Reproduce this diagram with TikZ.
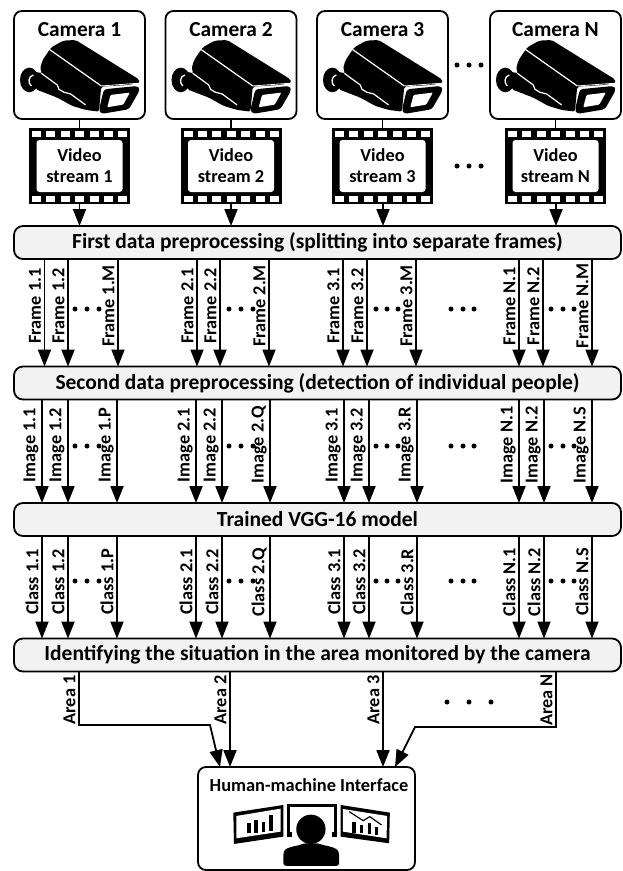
\documentclass[tikz,border=0pt]{standalone}
\usepackage{fontspec}
\setmainfont{Carlito}
\usetikzlibrary{arrows.meta,positioning}

\begin{document}
\begin{tikzpicture}[
    x=1pt, y=-1pt,
    line width=1.8pt,
    flow/.style={-{Triangle[length=17pt,width=13pt]}},
    cambox/.style={draw, rectangle, rounded corners=8pt, minimum width=131pt, minimum height=108pt, inner sep=0pt, outer sep=0pt},
    title/.style={inner sep=0pt, font=\fontsize{21.4}{24}\selectfont\bfseries},
    film/.style={fill=black, rectangle, minimum width=101pt, minimum height=76pt, inner sep=0pt, outer sep=0pt},
    window/.style={fill=white, rectangle, rounded corners=3pt, minimum width=86pt, minimum height=52pt, inner sep=0pt, align=center, font=\fontsize{18.3}{21}\selectfont\bfseries},
    bar/.style={draw, fill=black!5, rectangle, rounded corners=9pt, minimum width=607pt, minimum height=33pt, inner sep=0pt, outer sep=0pt, font=\fontsize{21.5}{24}\selectfont\bfseries},
    vlabel/.style={rotate=90, anchor=south, inner sep=1pt, font=\fontsize{18.3}{20}\selectfont\bfseries},
    camicon/.pic={
      \begin{scope}[x=.333pt, y=-.333pt]
        % outline of the housing and the arm
        \fill[rounded corners=2pt] (112,52) -- (148,32) -- (185,30) -- (375,148) -- (378,158) -- (345,165) -- (262,170) -- (255,245) -- (215,240) -- (175,228) -- (130,203) -- (65,178) -- (60,125) -- (85,130) -- (78,118) -- (85,92) -- (105,62) -- cycle;
        \fill (46,150) ellipse (28 and 37);
        \draw[white, line width=1.3pt] (58,135) .. controls (42,140) and (42,160) .. (52,168);
        \draw[white, line width=1.2pt] (106,58) -- (262,168);
        \draw[white, line width=.8pt] (262,168) -- (372,160);
        \draw[white, line width=1.2pt] (82,130) -- (130,165) -- (135,178) -- (150,187) -- (170,192) -- (215,225);
        % lens
        \fill[rounded corners=3pt] (270,178) -- (372,168) -- (378,180) -- (345,238) -- (262,252) -- (255,240) -- cycle;
        \fill[white, rounded corners=1pt] (290,195) -- (348,188) -- (328,224) -- (280,232) -- cycle;
      \end{scope}
    },
    hmiicon/.pic={
      \begin{scope}[x=.333pt, y=-.333pt]
        % left monitor
        \fill (40,68) -- (190,45) -- (190,140) -- (42,162) -- cycle;
        \fill[white] (49,78) -- (182,56) -- (182,125) -- (49,145) -- cycle;
        \foreach \a/\b/\c in {82/100/128, 103/90/128, 125/95/126, 148/75/122}
          \fill (\a,\b) rectangle (\a+10,\c);
        % right monitor
        \fill (362,45) -- (510,68) -- (508,160) -- (362,140) -- cycle;
        \fill[white] (369,57) -- (502,78) -- (500,145) -- (369,125) -- cycle;
        \foreach \a/\b/\c in {397/95/128, 420/105/130, 443/100/133, 465/110/136}
          \fill (\a,\b) rectangle (\a+10,\c);
        \draw[line width=1.2pt] (388,65) -- (430,92) -- (450,80) -- (485,105);
        % middle monitor and person
        \fill (200,42) rectangle (350,140);
        \fill[white] (209,51) rectangle (341,125);
        \fill[white] (215,125) rectangle (335,145);
        \fill[white] (273,118) circle (50);
        \fill (273,118) circle (44);
        \fill[rounded corners=3pt] (190,228) -- (190,195) .. controls (195,170) and (235,168) .. (250,160) -- (296,160) .. controls (315,168) and (352,170) .. (358,195) -- (358,228) -- cycle;
      \end{scope}
    }]
    \useasboundingbox (0,0) rectangle (622,871);

    % Cameras and video streams
    \foreach \x/\c/\n in {79.5/1/1, 231/2/2, 382.5/3/3, 555.5/4/N} {
      \node[cambox] (Cam\c) at (\x,65) {};
      \node[title] (Title\c) at (\x,30) {Camera \n};
      \pic at (\x-65.5,30) {camicon};
      \node[film] (Film\c) at (\x,166) {};
      \node[window] (Vid\c) at (\x,166) {Video\\stream \n};
      \foreach \k in {0,...,6} {
        \fill[white] (\x-47.5+\k*14.4,131) rectangle ++(9,6);
        \fill[white] (\x-47.5+\k*14.4,196) rectangle ++(9,6);
      }
    }

    % Processing stages
    \node[bar] (Bar1) at (317.5,242.5) {First data preprocessing (splitting into separate frames)};
    \node[bar] (Bar2) at (317.5,383) {Second data preprocessing (detection of individual people)};
    \node[bar] (Bar3) at (317.5,519.5) {Trained VGG-16 model};
    \node[bar] (Bar4) at (317.5,655) {Identifying the situation in the area monitored by the camera};

    % Human-machine interface
    \node[cambox, minimum width=217pt, minimum height=103pt] (Hmi) at (306.5,818.5) {};
    \node[title, font=\fontsize{18.4}{21}\selectfont\bfseries] (HmiTitle) at (309,785) {Human-machine Interface};
    \pic at (220,790) {hmiicon};

    % Arcs from cameras to the first stage
    \foreach \c/\x in {1/79.5, 2/231, 3/383, 4/556} {
      \draw (Cam\c) -- (Film\c);
      \draw[flow] (Film\c.south -| \x,0) -- (Bar1.north -| \x,0);
    }

    % Frames
    \foreach \x/\n [count=\k] in {44.5/1.1, 68/1.2, 118/1.M, 197/2.1, 220/2.2, 269/2.M, 343/3.1, 367/3.2, 416/3.M, 519/N.1, 543/N.2, 592/N.M} {
      \draw[flow] (Bar1.south -| \x,0) -- (Bar2.north -| \x,0);
      \node[vlabel] (Frame\k) at (\x-1.5,306) {Frame \n};
    }

    % Images
    \foreach \x/\n [count=\k] in {42/1.1, 68/1.2, 117/1.P, 196/2.1, 222/2.2, 270/2.Q, 344/3.1, 369/3.2, 417/3.R, 519/N.1, 544/N.2, 592/N.S} {
      \draw[flow] (Bar2.south -| \x,0) -- (Bar3.north -| \x,0);
      \node[vlabel] (Image\k) at (\x-1.5,445) {Image \n};
    }

    % Classes
    \foreach \x/\n [count=\k] in {42/1.1, 68/1.2, 117/1.P, 196/2.1, 222/2.2, 270/2.Q, 344/3.1, 369/3.2, 417/3.R, 519/N.1, 544/N.2, 592/N.S} {
      \draw[flow] (Bar3.south -| \x,0) -- (Bar4.north -| \x,0);
      \node[vlabel] (Class\k) at (\x-1.5,582) {Class \n};
    }

    % Areas
    \draw[flow] (Bar4.south -| 79,0) |- (210,725) -- (Hmi.north -| 220,0);
    \draw[flow] (Bar4.south -| 230,0) -- (Hmi.north -| 230,0);
    \draw[flow] (Bar4.south -| 383,0) -- (Hmi.north -| 383,0);
    \draw[flow] (Bar4.south -| 556,0) |- (415,727) -- (Hmi.north -| 395,0);
    \node[vlabel] (Area1) at (77.5,700) {Area 1};
    \node[vlabel] (Area2) at (228.5,700) {Area 2};
    \node[vlabel] (Area3) at (381.5,700) {Area 3};
    \node[vlabel] (AreaN) at (554.5,700) {Area N};

    % Dots
    \foreach \y in {65,166}
      \foreach \x in {457,469,481}
        \fill (\x,\y) circle (2.5);
    \foreach \y in {309,446,581}
      \foreach \x in {75,87,99, 229,241,253, 376,387,398, 451,463,474, 551,563,574}
        \fill (\x,\y) circle (2.5);
    \foreach \x in {447,469,491}
      \fill (\x,702) circle (2.5);
\end{tikzpicture}
\end{document}
